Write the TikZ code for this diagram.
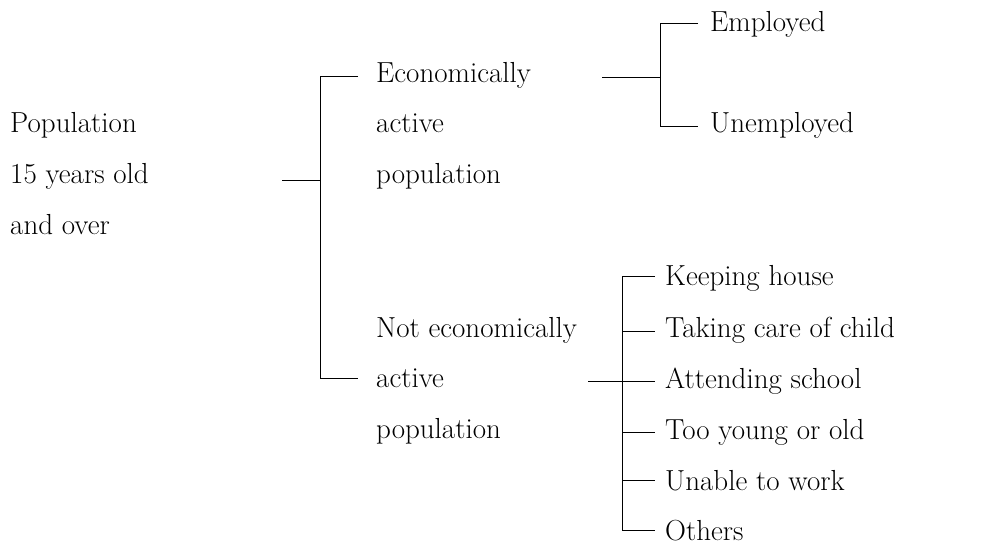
\documentclass[tikz,border=0pt]{standalone}
\begin{document}
\begin{tikzpicture}[x=1pt,y=-1pt,
  lbl/.style={anchor=base west,inner sep=0pt,font=\fontsize{29}{33}\selectfont},
  conn/.style={line width=0.8pt}]
\useasboundingbox (0,0) rectangle (985,545);
% left
\node[lbl] (p1) at (10,133) {Population};
\node[lbl] (p2) at (10,184) {15 years old};
\node[lbl] (p3) at (10,235) {and over};
% middle
\node[lbl] (e1) at (376,83) {Economically};
\node[lbl] (e2) at (376,133) {active};
\node[lbl] (e3) at (376,184) {population};
\node[lbl] (n1) at (376,337) {Not economically};
\node[lbl] (n2) at (376,387) {active};
\node[lbl] (n3) at (376,438) {population};
% right top
\node[lbl] (emp) at (710,32) {Employed};
\node[lbl] (unemp) at (710,133) {Unemployed};
% right bottom
\node[lbl] (c1) at (665,286) {Keeping house};
\node[lbl] (c2) at (665,337) {Taking care of child};
\node[lbl] (c3) at (665,388) {Attending school};
\node[lbl] (c4) at (665,439) {Too young or old};
\node[lbl] (c5) at (665,490) {Unable to work};
\node[lbl] (c6) at (665,540) {Others};
% coordinates
\coordinate (a0) at (282,180);
\coordinate (a1) at (320,180);
\coordinate (aT) at (320,76);
\coordinate (aB) at (320,378);
\coordinate (eT) at (358,76);
\coordinate (nT) at (358,378);
\coordinate (b0) at (602,77);
\coordinate (b1) at (660,77);
\coordinate (bT) at (660,23);
\coordinate (bB) at (660,126);
\coordinate (empT) at (698,23);
\coordinate (unT) at (698,126);
\coordinate (d0) at (588,381);
\coordinate (dT) at (622,276);
\coordinate (dB) at (622,530);
\coordinate (k1) at (655,276);
\coordinate (k2) at (655,331);
\coordinate (k3) at (655,381);
\coordinate (k4) at (655,432);
\coordinate (k5) at (655,480);
\coordinate (k6) at (655,530);
% connectors
\draw[conn] (a0) -- (a1);
\draw[conn] (eT) -- (aT) -- (aB) -- (nT);
\draw[conn] (b0) -- (b1);
\draw[conn] (empT) -- (bT) -- (bB) -- (unT);
\draw[conn] (d0) -- (k3);
\draw[conn] (k1) -- (dT) -- (dB) -- (k6);
\draw[conn] (dT |- k2) -- (k2);
\draw[conn] (dT |- k4) -- (k4);
\draw[conn] (dT |- k5) -- (k5);
\end{tikzpicture}
\end{document}
